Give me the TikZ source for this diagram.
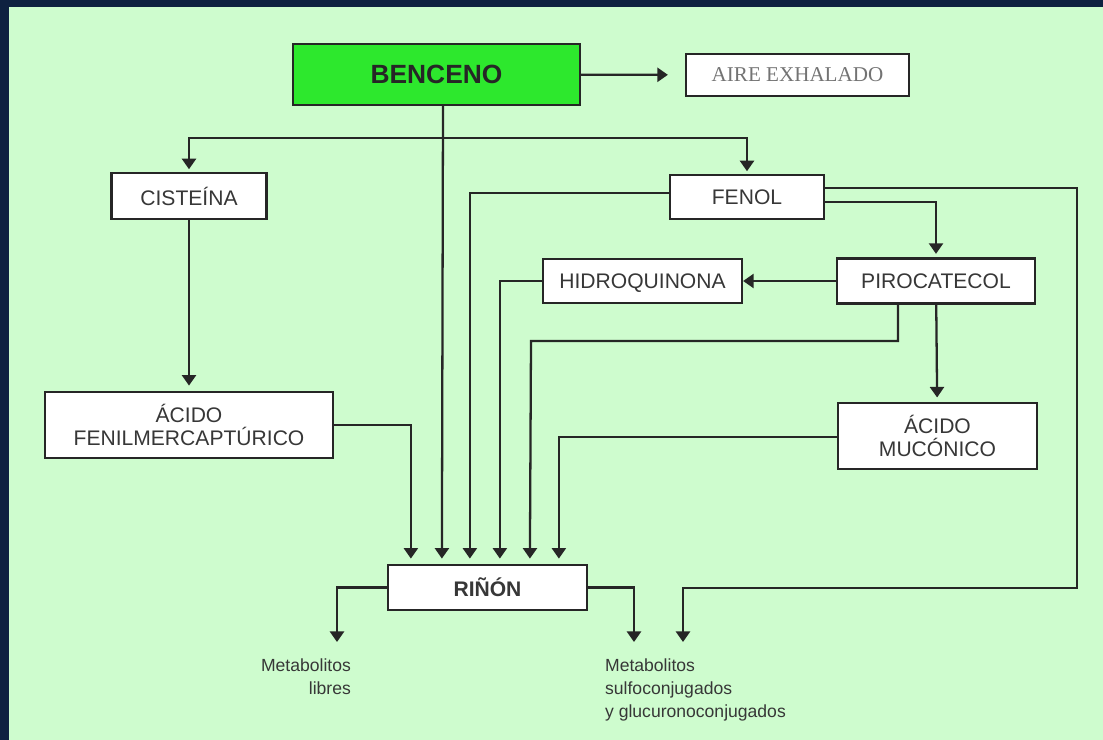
\documentclass[tikz,border=0pt]{standalone}
\usepackage{fontspec}
\setmainfont{Liberation Sans}
\newfontfamily\airefont{Liberation Serif}
\usepackage{tikz}
\usetikzlibrary{arrows.meta, positioning, calc}

\definecolor{fondo}{RGB}{206,252,206}
\definecolor{marco}{RGB}{14,33,64}
\definecolor{verdeben}{RGB}{45,232,45}
\definecolor{texto}{RGB}{55,55,55}

\tikzset{
  caja/.style={draw=black!85, fill=white, line width=1.3pt, inner sep=0pt,
    align=center, text=texto, font=\fontsize{12}{13.5}\selectfont},
  nota/.style={inner sep=0pt, text=texto, font=\fontsize{10}{13}\selectfont},
}

\begin{document}
\begin{tikzpicture}[x=0.02cm, y=-0.02cm, line width=1.3pt, draw=black!85,
    >={Triangle[width=8pt,length=6pt]}]
        % frame and background
        \fill[marco] (0,0) rectangle (1103,740);
        \fill[fondo] (9,7) rectangle (1103,740);
        \useasboundingbox (0,0) rectangle (1103,740);
        % Benceno and aire exhalado
        \node[caja, fill=verdeben, text=black!85, minimum width=5.74cm, minimum height=1.22cm,
            font=\fontsize{15}{16}\selectfont\bfseries] (benceno) at (436.5,74.5) {BENCENO};
        \node[caja, minimum width=4.46cm, minimum height=0.84cm,
            font=\airefont\fontsize{12}{13}\selectfont, text=black!55] (aire) at (797.5,75) {AIRE EXHALADO};
        \draw[->, shorten >=0.34cm] (benceno) -- (aire);
        % first metabolites
        \node[caja, minimum width=3.1cm, minimum height=0.92cm] (cisteina) at (189,196) {CISTEÍNA};
        \node[caja, minimum width=3.08cm, minimum height=0.88cm] (fenol) at (747,197) {FENOL};
        \node[caja, minimum width=3.96cm, minimum height=0.9cm] (pirocatecol) at (936,281) {PIROCATECOL};
        \node[caja, minimum width=3.98cm, minimum height=0.88cm, text depth=0pt] (hidroquinona) at (642.5,281) {HIDROQUINONA};
        \node[caja, minimum width=3.98cm, minimum height=1.32cm] (muconico) at (937.5,436) {ÁCIDO\\MUCÓNICO};
        \node[caja, minimum width=5.76cm, minimum height=1.32cm] (fenil) at (189,425) {ÁCIDO\\FENILMERCAPTÚRICO};
        % Riñon
        \node[caja, minimum width=3.98cm, minimum height=0.9cm,
            font=\fontsize{12}{13}\selectfont\bfseries] (rinon) at (487.5,587.5) {RIÑÓN};
        % entry points on Riñon
        \coordinate (r1) at ($(rinon.north west)+(24,0)$);
        \coordinate (r2) at ($(rinon.north west)+(55,0)$);
        \coordinate (r3) at ($(rinon.north west)+(83,0)$);
        \coordinate (r4) at ($(rinon.north west)+(113,0)$);
        \coordinate (r5) at ($(rinon.north west)+(143,0)$);
        \coordinate (r6) at ($(rinon.north west)+(172,0)$);
        % split under Benceno
        \coordinate (split) at (443,138);
        \draw[->, shorten >=3pt] (benceno.south -| split) -- (r2);
        \draw[->, shorten >=1.5pt] (split) -| (cisteina);
        \draw[->, shorten >=1.5pt] (split) -| (fenol);
        \draw[->, shorten >=3pt] (cisteina) -- (fenil);
        \draw[->, shorten >=3pt] (fenil.east) -| (r1);
        % Fenol branches
        \draw[->, shorten >=3pt] ($(fenol.west)+(0,-4)$) -| (r3);
        \draw[->, shorten >=2pt] ($(fenol.east)+(0,5)$) -| (pirocatecol);
        \coordinate (sulfo) at (683,642);
        \draw[->] ($(fenol.east)+(0,-9)$) -| (1077,588) -| (sulfo);
        % Pirocatecol branches
        \draw[->] (pirocatecol.west) -- (hidroquinona.east);
        \draw[->, shorten >=3pt] (hidroquinona.west) -| (r4);
        \draw[->, shorten >=3pt] ($(pirocatecol.south)+(-38,0)$) |- (531,341) -- (r5);
        \draw[->, shorten >=2.5pt] (pirocatecol) -- (muconico);
        \draw[->, shorten >=3pt] ($(muconico.west)+(0,1)$) -| (r6);
        % outputs of Riñon
        \coordinate (libres) at (337,642);
        \coordinate (conjug) at (634,642);
        \draw[->] (rinon.west) -| (libres);
        \draw[->] (rinon.east) -| (conjug);
        \node[nota, anchor=north east, align=right] (txtlibres) at (352,658) {Metabolitos\\libres};
        \node[nota, anchor=north west, align=left] (txtconjug) at (604,658) {Metabolitos\\sulfoconjugados\\y glucuronoconjugados};
    \end{tikzpicture}
\end{document}
